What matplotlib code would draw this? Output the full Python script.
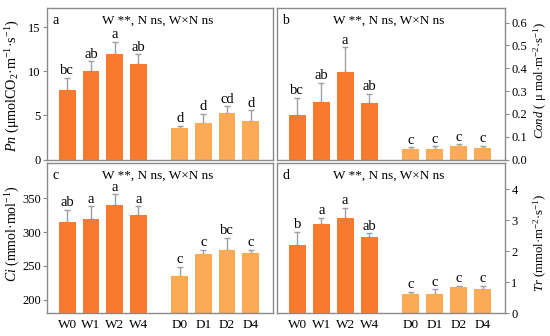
import matplotlib
matplotlib.use("Agg")
import matplotlib.pyplot as plt
import numpy as np

plt.rcParams['font.family'] = ['Liberation Serif', 'DejaVu Serif']
plt.rcParams['mathtext.fontset'] = 'custom'
plt.rcParams['mathtext.rm'] = 'Liberation Serif'
plt.rcParams['mathtext.it'] = 'Liberation Serif:italic'

categories = ['W0', 'W1', 'W2', 'W4', 'D0', 'D1', 'D2', 'D4']

pn_mean = [7.84, 10.0, 12.0, 10.87, 3.52, 4.17, 5.3, 4.35]
pn_err = [1.44, 1.14, 1.33, 1.06, 0.34, 1.02, 0.72, 1.22]
pn_letters = ['bc', 'ab', 'a', 'ab', 'd', 'd', 'cd', 'd']

cond_mean = [0.197, 0.253, 0.384, 0.247, 0.044, 0.048, 0.057, 0.051]
cond_err = [0.072, 0.084, 0.108, 0.041, 0.009, 0.010, 0.009, 0.009]
cond_letters = ['bc', 'ab', 'a', 'ab', 'c', 'c', 'c', 'c']

ci_mean = [315.6, 319.5, 339.7, 325.0, 234.9, 268.3, 273.7, 268.8]
ci_err = [17.2, 18.7, 16.2, 13.2, 13.3, 5.4, 18.2, 4.9]
ci_letters = ['ab', 'a', 'a', 'a', 'c', 'c', 'bc', 'c']

tr_mean = [2.18, 2.88, 3.08, 2.46, 0.61, 0.61, 0.85, 0.76]
tr_err = [0.43, 0.20, 0.32, 0.11, 0.07, 0.15, 0.02, 0.11]
tr_letters = ['b', 'a', 'a', 'ab', 'c', 'c', 'c', 'c']

stat_text = 'W **, N ns, W×N ns'

pos = np.array([0, 1, 2, 3, 4.75, 5.75, 6.75, 7.75])
colors = ['#F97A2C'] * 4 + ['#FDAA57'] * 4
spine_c = '#8A8A8A'
err_c = '#A0A0A0'

W, H = 550, 336
fig = plt.figure(figsize=(W / 100, H / 100), dpi=100)

def ax_at(l, r, t, b):
    return fig.add_axes([l / W, 1 - b / H, (r - l) / W, (b - t) / H])

axa = ax_at(47, 272.7, 8, 159.5)
axb = ax_at(276.7, 505, 8, 159.5)
axc = ax_at(47, 272.7, 163, 313)
axd = ax_at(276.7, 505, 163, 313)

specs = [
    (axa, pn_mean, pn_err, pn_letters, (0, 17.2), [0, 5, 10, 15], None, 'a',
     r'$\it{Pn}$ (μmolCO$_2$·m$^{-1}$·s$^{-1}$)', False, (13, 86, 10.2)),
    (axb, cond_mean, cond_err, cond_letters, (0, 0.664), [0, 0.1, 0.2, 0.3, 0.4, 0.5, 0.6],
     ['0.0', '0.1', '0.2', '0.3', '0.4', '0.5', '0.6'], 'b',
     r'$\it{Cond}$ ( μ mol·m$^{-2}$·s$^{-1}$)', False, (540, 80, 9.2)),
    (axc, ci_mean, ci_err, ci_letters, (180.5, 402), [200, 250, 300, 350], None, 'c',
     r'$\it{Ci}$ (mmol·mol$^{-1}$)', True, (13, 234, 10.0)),
    (axd, tr_mean, tr_err, tr_letters, (0, 4.84), [0, 1, 2, 3, 4], None, 'd',
     r'$\it{Tr}$ (mmol·m$^{-2}$·s$^{-1}$)', True, (540, 243, 9.2)),
]

for ax, mean, err, letters, ylim, yt, ytl, plabel, ylab, showx, lab in specs:
    mean = np.array(mean)
    err = np.array(err)
    ax.bar(pos, mean, width=0.71, color=colors, edgecolor='none', zorder=2)
    ax.errorbar(pos, mean, yerr=[np.zeros_like(err), err], fmt='none',
                ecolor=err_c, elinewidth=1.0, capsize=2.2, capthick=1.0, zorder=1)
    for x, m, e, lt in zip(pos, mean, err, letters):
        ax.annotate(lt, (x, m + e), xytext=(0, 0.5), textcoords='offset points',
                    ha='center', va='bottom', fontsize=10.5)
    ax.set_ylim(*ylim)
    ax.set_xlim(-0.86, 8.68)
    ax.set_yticks(yt)
    if ytl is not None:
        ax.set_yticklabels(ytl)
    for s in ax.spines.values():
        s.set_color(spine_c)
        s.set_linewidth(1.0)
    lx, ly, lfs = lab
    if lx > W / 2:
        ax.yaxis.tick_right()
    fig.text(lx / W, 1 - ly / H, ylab, rotation=90, ha='center', va='center',
             fontsize=lfs)
    ax.tick_params(axis='y', direction='out', length=3, width=0.8, color=spine_c,
                   labelsize=9, pad=1.5)
    if showx:
        ax.set_xticks(pos)
        ax.set_xticklabels(categories)
        ax.tick_params(axis='x', length=0, labelsize=9.5, pad=4)
    else:
        ax.set_xticks([])
    ax.text(0.49, 0.915, stat_text, transform=ax.transAxes, ha='center', va='center',
            fontsize=9.5)
    ax.text(0.025, 0.915, plabel, transform=ax.transAxes, ha='left', va='center',
            fontsize=10)

fig.savefig('out.png', dpi=100)
